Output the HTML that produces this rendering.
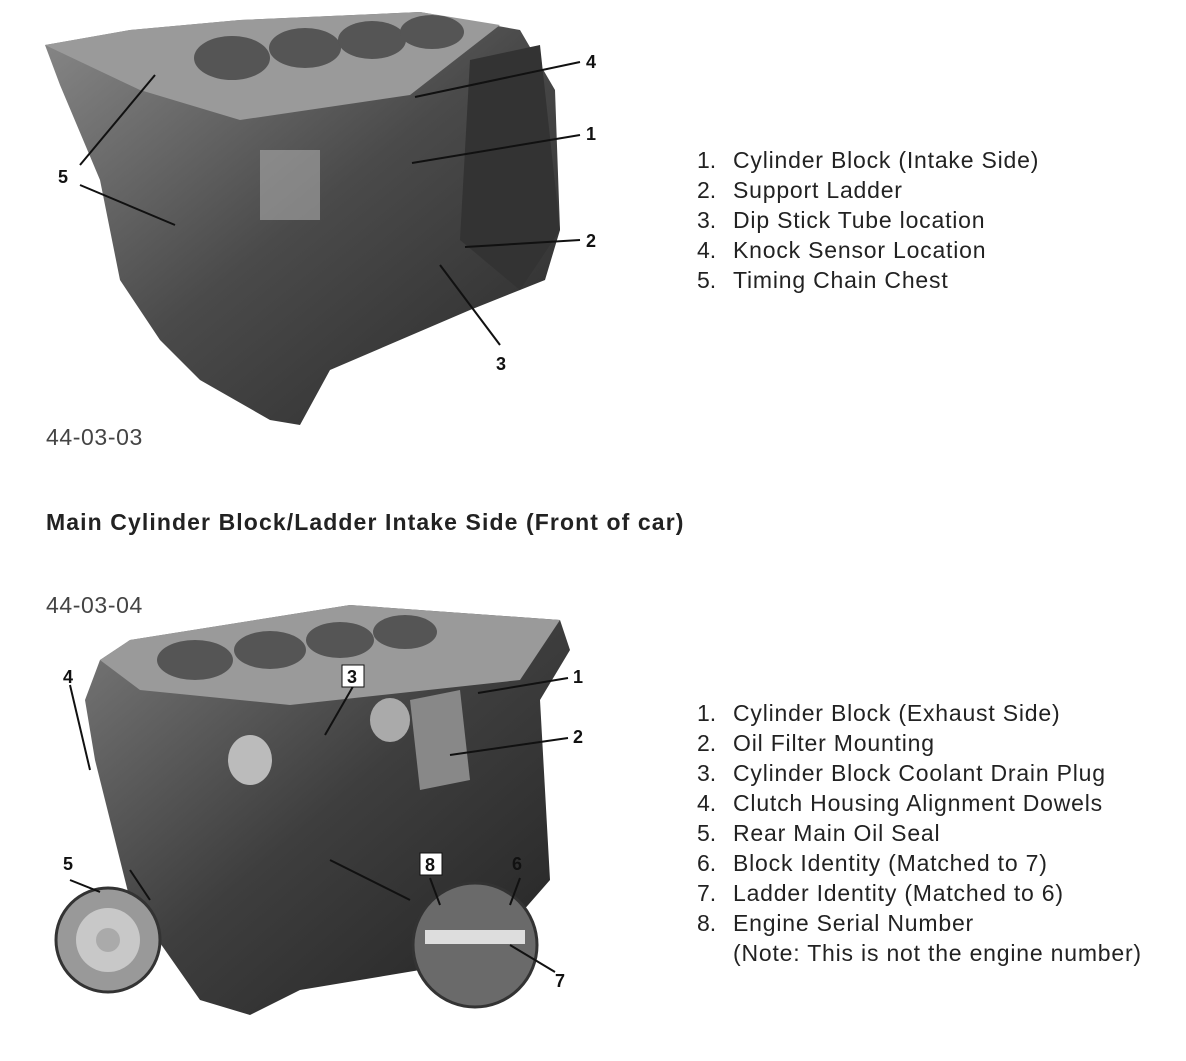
<!DOCTYPE html>
<html><head><meta charset="utf-8"><style>
body{margin:0;background:#fff;width:1186px;height:1061px;position:relative;overflow:hidden;font-family:"Liberation Sans",sans-serif;color:#222}
.l{position:absolute;font-size:23px;letter-spacing:0.8px;line-height:30px;white-space:pre}
.l span{display:inline-block;width:36px;letter-spacing:0}
.c{position:absolute;font-size:23px;letter-spacing:0.6px;color:#444}
svg{position:absolute;left:0;top:0}
</style></head><body>
<svg width="1186" height="1061" viewBox="0 0 1186 1061">
<defs>
<linearGradient id="g1" x1="0" y1="0" x2="1" y2="1"><stop offset="0" stop-color="#8a8a8a"/><stop offset="0.5" stop-color="#4a4a4a"/><stop offset="1" stop-color="#2a2a2a"/></linearGradient>
<linearGradient id="g2" x1="0" y1="0" x2="1" y2="1"><stop offset="0" stop-color="#7a7a7a"/><stop offset="0.5" stop-color="#3e3e3e"/><stop offset="1" stop-color="#222"/></linearGradient>
</defs>
<polygon points="45,45 130,30 240,20 420,12 520,30 555,90 560,230 545,280 520,290 470,310 330,370 300,425 270,420 200,380 160,340 120,280 100,180 60,85" fill="url(#g1)"/>
<polygon points="45,45 130,30 240,20 420,12 500,25 410,95 240,120 140,90" fill="#9a9a9a"/>
<ellipse cx="232" cy="58" rx="38" ry="22" fill="#555"/><ellipse cx="305" cy="48" rx="36" ry="20" fill="#555"/><ellipse cx="372" cy="40" rx="34" ry="19" fill="#555"/><ellipse cx="432" cy="32" rx="32" ry="17" fill="#555"/>
<polygon points="470,60 540,45 560,230 520,290 460,240" fill="#333"/>
<rect x="260" y="150" width="60" height="70" fill="#aaa" opacity="0.6"/>
<g stroke="#111" stroke-width="2" fill="none">
<line x1="80" y1="165" x2="155" y2="75"/><line x1="80" y1="185" x2="175" y2="225"/>
<line x1="580" y1="62" x2="415" y2="97"/><line x1="580" y1="135" x2="412" y2="163"/>
<line x1="580" y1="240" x2="465" y2="247"/><line x1="500" y1="345" x2="440" y2="265"/>
</g>
<g font-family="Liberation Sans" font-weight="bold" font-size="18" fill="#111">
<text x="586" y="68">4</text><text x="586" y="140">1</text><text x="586" y="247">2</text><text x="496" y="370">3</text><text x="58" y="183">5</text></g>
<polygon points="100,660 130,640 350,605 560,620 570,650 540,700 550,880 480,960 300,990 250,1015 200,1000 130,900 95,760 85,700" fill="url(#g2)"/>
<polygon points="100,660 130,640 350,605 560,620 520,680 290,705 140,690" fill="#9a9a9a"/>
<ellipse cx="195" cy="660" rx="38" ry="20" fill="#555"/><ellipse cx="270" cy="650" rx="36" ry="19" fill="#555"/><ellipse cx="340" cy="640" rx="34" ry="18" fill="#555"/><ellipse cx="405" cy="632" rx="32" ry="17" fill="#555"/>
<ellipse cx="250" cy="760" rx="22" ry="25" fill="#bbb"/><ellipse cx="390" cy="720" rx="20" ry="22" fill="#aaa"/>
<polygon points="410,700 460,690 470,780 420,790" fill="#888"/>
<circle cx="108" cy="940" r="52" fill="#999" stroke="#333" stroke-width="3"/><circle cx="108" cy="940" r="32" fill="#c8c8c8"/><circle cx="108" cy="940" r="12" fill="#aaa"/>
<circle cx="475" cy="945" r="62" fill="#6a6a6a" stroke="#333" stroke-width="3"/><rect x="425" y="930" width="100" height="14" fill="#ddd"/>
<g stroke="#111" stroke-width="2" fill="none">
<line x1="568" y1="678" x2="478" y2="693"/><line x1="568" y1="738" x2="450" y2="755"/>
<line x1="355" y1="683" x2="325" y2="735"/><line x1="70" y1="685" x2="90" y2="770"/>
<line x1="70" y1="880" x2="100" y2="892"/><line x1="430" y1="878" x2="440" y2="905"/>
<line x1="520" y1="878" x2="510" y2="905"/><line x1="555" y1="972" x2="510" y2="945"/>
<line x1="130" y1="870" x2="150" y2="900"/><line x1="330" y1="860" x2="410" y2="900"/>
</g>
<rect x="342" y="665" width="22" height="22" fill="#fff" stroke="#111"/>
<rect x="420" y="853" width="22" height="22" fill="#fff" stroke="#111"/>
<g font-family="Liberation Sans" font-weight="bold" font-size="18" fill="#111">
<text x="573" y="683">1</text><text x="573" y="743">2</text><text x="347" y="683">3</text><text x="63" y="683">4</text><text x="63" y="870">5</text><text x="425" y="871">8</text><text x="512" y="870">6</text><text x="555" y="987">7</text></g>
</svg>
<div class="l" style="left:697px;top:145px"><span>1.</span>Cylinder Block (Intake Side)
<span>2.</span>Support Ladder
<span>3.</span>Dip Stick Tube location
<span>4.</span>Knock Sensor Location
<span>5.</span>Timing Chain Chest</div>
<div class="c" style="left:46px;top:424px">44-03-03</div>
<div style="position:absolute;left:46px;top:509px;font-weight:bold;font-size:23px;letter-spacing:1.1px;white-space:nowrap">Main Cylinder Block/Ladder Intake Side (Front of car)</div>
<div class="c" style="left:46px;top:592px">44-03-04</div>
<div class="l" style="left:697px;top:698px"><span>1.</span>Cylinder Block (Exhaust Side)
<span>2.</span>Oil Filter Mounting
<span>3.</span>Cylinder Block Coolant Drain Plug
<span>4.</span>Clutch Housing Alignment Dowels
<span>5.</span>Rear Main Oil Seal
<span>6.</span>Block Identity (Matched to 7)
<span>7.</span>Ladder Identity (Matched to 6)
<span>8.</span>Engine Serial Number
<span></span>(Note: This is not the engine number)</div>
</body></html>
